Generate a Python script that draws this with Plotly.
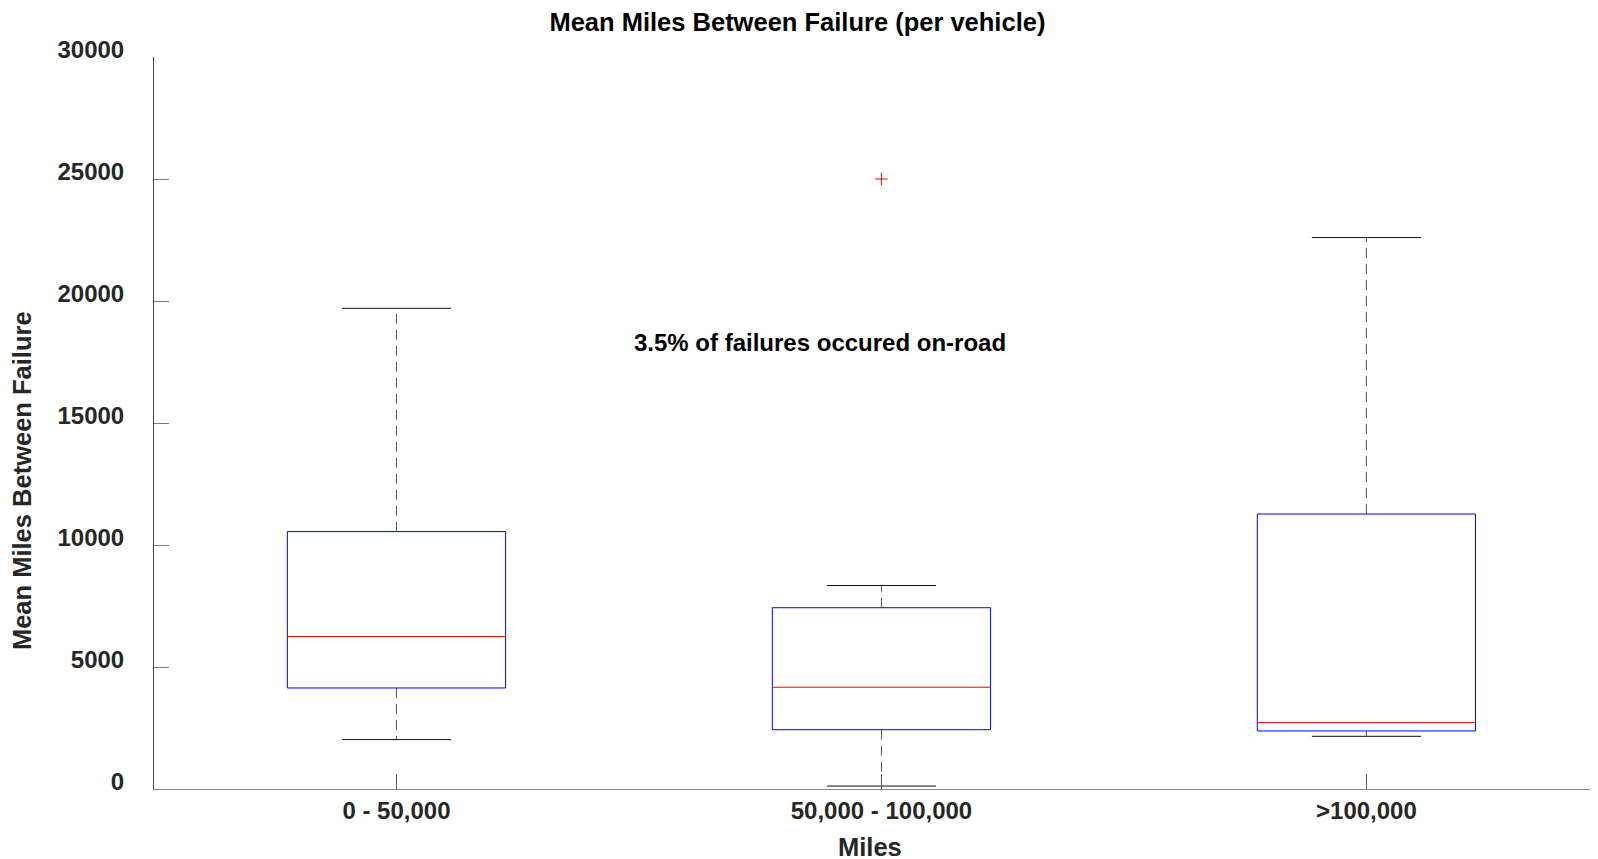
import plotly.graph_objects as go

# Box statistics
categories = ["0 - 50,000", "50,000 - 100,000", ">100,000"]
lower_whisker = [2025, 120, 2160]
q1 = [4140, 2430, 2380]
median = [6250, 4170, 2720]
q3 = [10550, 7430, 11270]
upper_whisker = [19700, 8340, 22600]
outlier_group = [2]
outlier_value = [25000]

box_half = 0.225
cap_half = 0.1125
positions = list(range(1, len(categories) + 1))

box_x, box_y = [], []
med_x, med_y = [], []
wh_x, wh_y = [], []
cap_x, cap_y = [], []
for p, lo, a, m, b, hi in zip(positions, lower_whisker, q1, median, q3, upper_whisker):
    box_x += [p - box_half, p + box_half, p + box_half, p - box_half, p - box_half, None]
    box_y += [a, a, b, b, a, None]
    med_x += [p - box_half, p + box_half, None]
    med_y += [m, m, None]
    wh_x += [p, p, None, p, p, None]
    wh_y += [b, hi, None, a, lo, None]
    cap_x += [p - cap_half, p + cap_half, None, p - cap_half, p + cap_half, None]
    cap_y += [hi, hi, None, lo, lo, None]

font = "Liberation Sans, Arial, sans-serif"

fig = go.Figure()
fig.add_trace(go.Scatter(x=wh_x, y=wh_y, mode="lines",
                         line=dict(color="#555555", width=1, dash="10px,6px"), hoverinfo="skip"))
fig.add_trace(go.Scatter(x=cap_x, y=cap_y, mode="lines",
                         line=dict(color="#111111", width=1), hoverinfo="skip"))
fig.add_trace(go.Scatter(x=box_x, y=box_y, mode="lines",
                         line=dict(color="#0000ff", width=1), hoverinfo="skip"))
fig.add_trace(go.Scatter(x=med_x, y=med_y, mode="lines",
                         line=dict(color="#ff0000", width=1), hoverinfo="skip"))
fig.add_trace(go.Scatter(x=outlier_group, y=outlier_value, mode="markers",
                         marker=dict(symbol="cross-thin", size=9, line=dict(color="#ff0000", width=1))))

# the page body has an 8px margin, so margins are reduced by 8px
fig.update_layout(
    width=1598, height=859, autosize=False,
    margin=dict(l=146, r=0, t=49, b=78),
    plot_bgcolor="white", paper_bgcolor="white",
    showlegend=False,
    font=dict(family=font, size=24, color="#262626", weight="bold"),
    title=dict(text="Mean Miles Between Failure (per vehicle)", x=0.494, xref="container",
               y=1 - 14 / 859, yref="container", xanchor="center", yanchor="middle",
               font=dict(family=font, size=25.5, color="black", weight="bold")),
    xaxis=dict(range=[0.5, 3.494], tickvals=positions, ticktext=categories,
               showline=True, linecolor="#888888", linewidth=1,
               ticks="inside", ticklen=15, tickcolor="#555555",
               showgrid=False, zeroline=False, ticklabelstandoff=0),
    yaxis=dict(range=[0, 30000], tickvals=[0, 5000, 10000, 15000, 20000, 25000, 30000],
               tickformat="d",
               showline=True, linecolor="#444444", linewidth=1,
               ticks="inside", ticklen=15, tickcolor="#777777",
               showgrid=False, zeroline=False, ticklabelstandoff=24, ticklabelshift=-7),
    annotations=[
        dict(text="3.5% of failures occured on-road", x=1.873, y=18300, xref="x", yref="y",
             showarrow=False, font=dict(family=font, size=24, color="black", weight="bold")),
        dict(text="Mean Miles Between Failure", x=-0.0905, y=0.4215, xref="paper", yref="paper",
             textangle=-90, showarrow=False, xanchor="center", yanchor="middle",
             font=dict(family=font, size=25.5, color="#262626", weight="bold")),
        dict(text="Miles", x=0.493, y=-0.0796, xref="paper", yref="paper",
             showarrow=False, xanchor="center", yanchor="middle",
             font=dict(family=font, size=25.5, color="#262626", weight="bold")),
    ],
)

fig.write_html("out.html")
